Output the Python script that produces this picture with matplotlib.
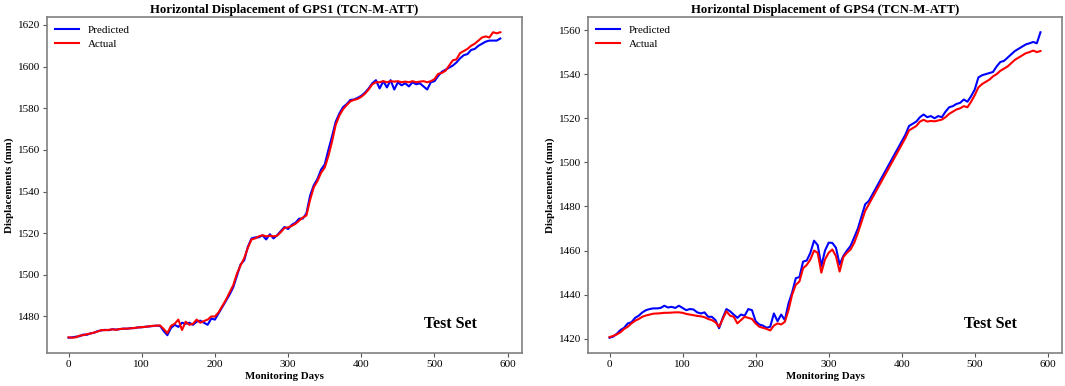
import numpy as np
import matplotlib
matplotlib.use("Agg")
import matplotlib.pyplot as plt

plt.rcParams['font.family'] = ['Liberation Serif', 'DejaVu Serif']

step = 5
titles = ["Horizontal Displacement of GPS1 (TCN-M-ATT)",
          "Horizontal Displacement of GPS4 (TCN-M-ATT)"]
xlabel = "Monitoring Days"
ylabel = "Displacements (mm)"
legend_labels = ["Predicted", "Actual"]
note = "Test Set"

gps1_actual = [
    1470.0, 1469.8, 1470.0, 1470.8, 1471.0, 1471.5, 1471.8, 1472.3, 1472.8, 1473.5,
    1473.4, 1473.6, 1473.8, 1473.6, 1474.0, 1474.1, 1474.2, 1474.3, 1474.5, 1474.7,
    1474.9, 1475.0, 1475.3, 1475.5, 1475.6, 1475.7, 1474.0, 1472.0, 1475.5, 1476.5,
    1478.5, 1473.5, 1477.5, 1476.0, 1476.5, 1478.5, 1477.0, 1477.8, 1478.5, 1480.0,
    1480.0, 1482.0, 1485.0, 1488.0, 1491.5, 1495.0, 1500.5, 1504.5, 1508.0, 1513.0,
    1517.0, 1517.5, 1518.5, 1519.0, 1518.5, 1518.8, 1518.5, 1518.8, 1520.5, 1522.5,
    1522.8, 1523.5, 1524.5, 1526.0, 1527.5, 1528.5, 1536.0, 1542.0, 1545.0, 1549.0,
    1551.5, 1557.0, 1564.0, 1572.0, 1576.5, 1579.5, 1581.5, 1583.3, 1584.0, 1584.5,
    1585.5, 1587.0, 1589.0, 1591.5, 1592.5, 1592.5, 1593.0, 1592.5, 1593.0, 1592.8,
    1593.0, 1592.5, 1592.8, 1592.5, 1593.0, 1592.5, 1592.8, 1593.0, 1592.5, 1593.0,
    1594.0, 1596.5, 1597.0, 1598.0, 1600.5, 1603.0, 1603.5, 1606.5, 1607.5, 1608.5,
    1610.0, 1611.0, 1612.5, 1614.0, 1614.5, 1614.0, 1616.5, 1616.0, 1616.5]

gps1_predicted = [
    1469.8, 1470.0, 1470.3, 1470.5, 1471.3, 1471.2, 1471.9, 1472.2, 1473.0, 1473.3,
    1473.6, 1473.4, 1473.9, 1473.7, 1473.9, 1474.2, 1474.1, 1474.4, 1474.4, 1474.8,
    1474.8, 1475.1, 1475.2, 1475.4, 1475.6, 1475.5, 1473.0, 1471.0, 1474.5, 1476.0,
    1475.0, 1477.0, 1476.5, 1477.0, 1476.0, 1477.5, 1478.0, 1477.0, 1476.0, 1479.0,
    1478.5, 1481.5, 1484.5, 1487.5, 1490.5, 1494.0, 1499.5, 1505.0, 1507.0, 1513.5,
    1517.5, 1518.0, 1518.0, 1519.0, 1517.0, 1519.5, 1517.5, 1519.0, 1521.0, 1523.0,
    1522.0, 1524.0, 1525.0, 1527.0, 1527.0, 1529.5, 1538.0, 1543.0, 1546.0, 1550.5,
    1553.0, 1560.0, 1566.5, 1573.5, 1577.5, 1580.5, 1582.0, 1584.0, 1584.2, 1585.0,
    1586.0, 1587.5, 1589.5, 1592.0, 1593.5, 1589.5, 1593.0, 1590.0, 1593.5, 1589.0,
    1592.5, 1591.0, 1592.0, 1590.5, 1592.5, 1591.5, 1592.0, 1590.5, 1589.0, 1592.5,
    1593.0, 1595.5, 1597.5, 1598.5, 1599.5, 1600.5, 1602.0, 1604.0, 1605.5, 1606.0,
    1608.0, 1608.5, 1610.0, 1611.0, 1612.0, 1612.5, 1612.5, 1612.5, 1613.5]

gps4_actual = [
    1420.8, 1421.3, 1422.0, 1423.0, 1424.5, 1425.5, 1427.0, 1428.2, 1429.0, 1430.0,
    1430.6, 1431.0, 1431.4, 1431.5, 1431.6, 1431.8, 1431.8, 1431.9, 1432.0, 1432.0,
    1431.8, 1431.3, 1431.0, 1430.7, 1430.4, 1430.2, 1429.8, 1429.0, 1428.5, 1427.5,
    1425.5, 1429.0, 1432.5, 1430.5, 1430.0, 1427.0, 1428.5, 1430.0, 1429.5, 1429.0,
    1427.0, 1425.5, 1425.0, 1424.5, 1423.8, 1426.0, 1427.0, 1426.5, 1427.7, 1433.0,
    1440.0, 1444.5, 1446.0, 1452.0, 1453.5, 1456.0, 1460.0, 1459.0, 1450.0, 1456.0,
    1459.0, 1460.5, 1457.5, 1450.5, 1457.0, 1459.0, 1460.5, 1463.5, 1468.0, 1473.0,
    1478.0, 1481.0, 1484.0, 1487.0, 1490.0, 1493.0, 1496.0, 1499.0, 1502.0, 1505.0,
    1508.0, 1511.0, 1514.5, 1515.5, 1516.5, 1518.5, 1519.3, 1518.5, 1518.8, 1518.6,
    1519.0, 1519.4, 1520.5, 1522.0, 1523.0, 1524.0, 1524.5, 1525.5, 1525.0, 1527.5,
    1530.5, 1534.0, 1535.5, 1536.5, 1537.5, 1539.0, 1540.0, 1541.5, 1542.5, 1543.5,
    1545.0, 1546.5, 1547.5, 1548.5, 1549.5, 1550.0, 1550.7, 1550.0, 1550.5]

gps4_predicted = [
    1420.5, 1421.0, 1422.3, 1424.0, 1425.0, 1427.0, 1427.5, 1429.5, 1430.5, 1432.0,
    1433.0, 1433.5, 1433.8, 1433.8, 1434.0, 1435.0, 1434.2, 1434.5, 1434.0, 1435.0,
    1434.0, 1433.0, 1433.5, 1433.3, 1432.0, 1431.5, 1432.0, 1430.0, 1430.0, 1428.5,
    1424.8, 1429.5, 1433.5, 1432.5, 1431.0, 1429.5, 1431.0, 1430.5, 1433.5, 1433.0,
    1428.0, 1426.5, 1426.0, 1425.0, 1425.5, 1431.5, 1428.0, 1431.0, 1428.5, 1436.0,
    1441.0, 1447.5, 1448.0, 1455.0, 1455.5, 1459.0, 1464.5, 1462.5, 1453.0, 1460.0,
    1463.6, 1463.5, 1461.3, 1453.7, 1457.5, 1460.0, 1462.1, 1466.0, 1470.0, 1475.5,
    1481.0, 1482.5, 1485.5, 1488.5, 1491.5, 1494.5, 1497.5, 1500.5, 1503.5, 1506.5,
    1509.5, 1512.5, 1516.5, 1517.5, 1518.5, 1520.5, 1521.7, 1520.5, 1521.0, 1520.0,
    1521.0, 1520.5, 1523.0, 1525.0, 1525.5, 1526.5, 1527.0, 1528.5, 1527.5, 1530.0,
    1533.0, 1538.5, 1539.5, 1540.0, 1540.5, 1541.0, 1543.5, 1545.5, 1546.0, 1547.5,
    1549.0, 1550.5, 1551.5, 1552.5, 1553.5, 1554.0, 1554.6, 1554.0, 1559.0]

series = [(gps1_predicted, gps1_actual), (gps4_predicted, gps4_actual)]

fig = plt.figure(figsize=(10.65, 3.86), dpi=100)
positions = [[0.0441, 0.0855, 0.4460, 0.8705],
             [0.5521, 0.0855, 0.4451, 0.8705]]

for pos, title, (pred, act) in zip(positions, titles, series):
    ax = fig.add_axes(pos)
    days = np.arange(len(act)) * step
    ax.plot(days, pred, color='blue', lw=1.5, label=legend_labels[0])
    ax.plot(days, act, color='red', lw=1.5, label=legend_labels[1])
    ax.set_title(title, fontsize=9.2, fontweight='bold', pad=3)
    ax.set_xlabel(xlabel, fontsize=7.8, fontweight='bold', labelpad=2)
    ax.set_ylabel(ylabel, fontsize=7.8, fontweight='bold', labelpad=3)
    ax.set_xticks([0, 100, 200, 300, 400, 500, 600])
    ax.tick_params(labelsize=8, length=3, width=0.8, color='#555555', pad=2)
    for s in ax.spines.values():
        s.set_color('#808080')
        s.set_linewidth(1.2)
    ax.legend(loc='upper left', frameon=False, fontsize=8, handlelength=2.2,
              borderaxespad=0.3, labelspacing=0.4)
    ax.text(0.85, 0.085, note, transform=ax.transAxes, ha='center', va='center',
            fontsize=11.5, fontweight='bold')

fig.savefig("out.png", dpi=100)
